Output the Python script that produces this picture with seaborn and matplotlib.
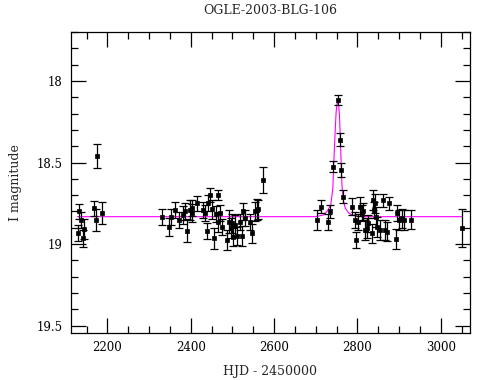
import numpy as np
import pandas as pd
import matplotlib
matplotlib.use("Agg")
import matplotlib.pyplot as plt
import seaborn as sns
from matplotlib.ticker import MultipleLocator, FixedLocator

title = "OGLE-2003-BLG-106"
xlabel = "HJD - 2450000"
ylabel = "I magnitude"

hjd = [2129, 2133, 2136, 2141, 2144, 2167, 2172, 2175, 2186,
       2330.5, 2348, 2353, 2362.5, 2373, 2381, 2386, 2392, 2398.5, 2402.5,
       2404, 2416, 2429, 2434.5, 2438.5, 2442, 2446.5, 2450.5, 2456, 2461,
       2465, 2466, 2470.5, 2474.5, 2486.5, 2493, 2496, 2498.5, 2501, 2506.5,
       2512, 2518.5, 2522.5, 2526.5, 2530.5, 2542.5, 2546.5, 2554.5, 2558.5,
       2562.5, 2574.5,
       2704, 2713, 2730.5, 2734.5, 2742.5, 2753, 2758.5, 2761, 2766,
       2786.5, 2794, 2796, 2802.5, 2806.5, 2810.5, 2814.5, 2818.5, 2822.5,
       2826.5, 2834.5, 2838.5, 2840, 2842.5, 2845, 2848, 2854.5, 2862.5,
       2866.5, 2870.5, 2877, 2893, 2894.5, 2901, 2906.5, 2912, 2929, 3050.5]
mag = [18.93, 18.80, 18.853, 18.965, 18.908, 18.78, 18.853, 18.46, 18.81,
       18.833, 18.894, 18.833, 18.79, 18.853, 18.82, 18.80, 18.918, 18.79, 18.81,
       18.78, 18.75, 18.79, 18.81, 18.92, 18.747, 18.70, 18.787, 18.965, 18.816,
       18.70, 18.863, 18.81, 18.894, 18.975, 18.863, 18.90, 18.873, 18.955, 18.883,
       18.95, 18.863, 18.95, 18.80, 18.842, 18.863, 18.934, 18.80, 18.79,
       18.787, 18.607,
       18.853, 18.77, 18.863, 18.80, 18.526, 18.117, 18.36, 18.546, 18.71,
       18.77, 18.853, 18.975, 18.863, 18.77, 18.81, 18.80, 18.914, 18.90,
       18.873, 18.934, 18.73, 18.79, 18.75, 18.833, 18.894, 18.914, 18.73,
       18.914, 18.924, 18.75, 18.97, 18.81, 18.853, 18.842, 18.853, 18.85, 18.90]
err = [0.05, 0.045, 0.05, 0.05, 0.06, 0.046, 0.065, 0.074, 0.067,
       0.05, 0.055, 0.05, 0.05, 0.05, 0.055, 0.05, 0.07, 0.06, 0.055,
       0.05, 0.045, 0.05, 0.05, 0.05, 0.05, 0.045, 0.06, 0.065, 0.05,
       0.03, 0.06, 0.05, 0.05, 0.06, 0.07, 0.06, 0.06, 0.055, 0.06,
       0.055, 0.05, 0.06, 0.05, 0.05, 0.05, 0.06, 0.06, 0.065,
       0.06, 0.08,
       0.06, 0.04, 0.05, 0.04, 0.035, 0.03, 0.04, 0.04, 0.04,
       0.05, 0.05, 0.05, 0.05, 0.06, 0.05, 0.05, 0.06, 0.06,
       0.05, 0.06, 0.06, 0.05, 0.06, 0.06, 0.06, 0.06, 0.04,
       0.06, 0.06, 0.04, 0.06, 0.05, 0.06, 0.06, 0.06, 0.06, 0.115]

model_hjd = [2128, 2700, 2718, 2727, 2736, 2741, 2744, 2747, 2749, 2751, 2753,
             2755, 2757, 2759, 2761, 2763, 2766, 2771, 2779, 2790, 2810, 3052]
model_mag = [18.832, 18.832, 18.822, 18.80, 18.76, 18.66, 18.46, 18.29, 18.19, 18.14, 18.125,
             18.15, 18.21, 18.35, 18.50, 18.64, 18.73, 18.78, 18.81, 18.825, 18.832, 18.832]

ytick_vals = [18, 18.5, 19, 19.5]
ytick_labels = ["18", "18.5", "19", "19.5"]
xtick_vals = [2200, 2400, 2600, 2800, 3000]

sns.set_theme(style="ticks")
plt.rcParams['font.family'] = ['DejaVu Serif']

df = pd.DataFrame({"hjd": hjd, "mag": mag, "err": err})
mdf = pd.DataFrame({"hjd": model_hjd, "mag": model_mag})

fig = plt.figure(figsize=(4.9, 3.8), dpi=100)
ax = fig.add_axes([0.1443, 0.1237, 0.8147, 0.7921])

sns.lineplot(data=mdf, x="hjd", y="mag", ax=ax, color="#FF00FF", lw=0.8, sort=False, zorder=2)
ax.errorbar(df["hjd"], df["mag"], yerr=df["err"], fmt="none", ecolor="black",
            elinewidth=0.9, capsize=3, capthick=0.9, zorder=3)
sns.scatterplot(data=df, x="hjd", y="mag", ax=ax, color="black", marker="s",
                s=10, edgecolor="black", linewidth=0.5, zorder=4)

ax.set_xlim(2112, 3070)
ax.set_ylim(19.545, 17.7)
ax.xaxis.set_major_locator(FixedLocator(xtick_vals))
ax.xaxis.set_minor_locator(MultipleLocator(50))
ax.yaxis.set_major_locator(FixedLocator(ytick_vals))
ax.set_yticklabels(ytick_labels)
ax.yaxis.set_minor_locator(MultipleLocator(0.1))
ax.tick_params(which="both", direction="in", top=True, right=True, width=0.9, colors="black", labelsize=8.5)
ax.tick_params(which="major", length=10.5, pad=6)
ax.tick_params(which="minor", length=5)
for s in ax.spines.values():
    s.set_linewidth(0.9)
    s.set_color("black")

ax.set_title(title, fontsize=9, pad=13)
ax.set_xlabel(xlabel, fontsize=9, labelpad=8)
ax.set_ylabel(ylabel, fontsize=9, labelpad=10)

fig.savefig("out.png", dpi=100, facecolor="white")
